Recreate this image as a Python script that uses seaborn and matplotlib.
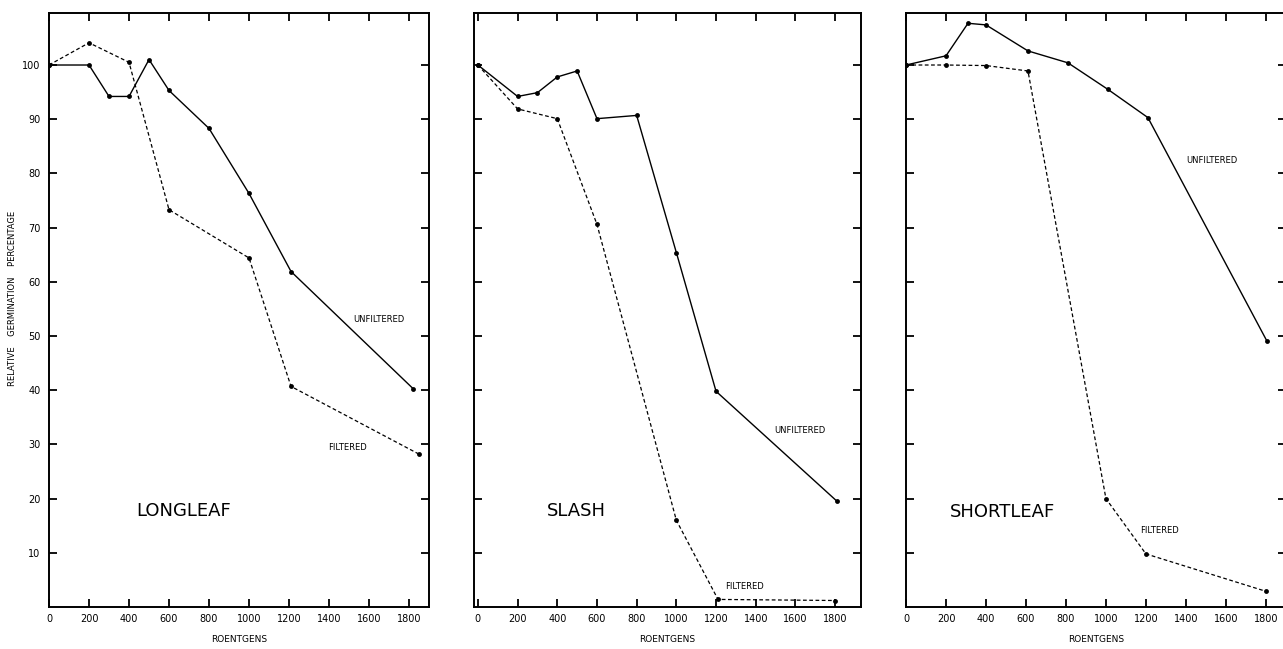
import numpy as np
import pandas as pd
import matplotlib.pyplot as plt
import seaborn as sns

# valores (roentgens x germinação relativa %)
longleaf_unf_x = [0, 200, 300, 400, 500, 600, 800, 1000, 1210, 1820]
longleaf_unf_y = [100, 100, 94.2, 94.2, 101, 95.3, 88.3, 76.3, 61.9, 40.3]
longleaf_fil_x = [0, 200, 400, 600, 1000, 1210, 1850]
longleaf_fil_y = [100, 104.1, 100.5, 73.3, 64.4, 40.7, 28.2]

slash_unf_x = [0, 200, 300, 400, 500, 600, 800, 1000, 1200, 1810]
slash_unf_y = [100, 94.2, 94.9, 97.8, 98.9, 90.1, 90.7, 65.4, 39.8, 19.5]
slash_fil_x = [0, 200, 400, 600, 1000, 1210, 1800]
slash_fil_y = [100, 91.9, 90.1, 70.6, 16.0, 1.4, 1.2]

shortleaf_unf_x = [0, 200, 310, 400, 610, 810, 1010, 1210, 1805]
shortleaf_unf_y = [100, 101.7, 107.7, 107.4, 102.6, 100.4, 95.5, 90.3, 49.1]
shortleaf_fil_x = [0, 200, 400, 610, 1000, 1200, 1800]
shortleaf_fil_y = [100, 100, 99.9, 98.9, 20.0, 9.8, 2.9]

species = ['LONGLEAF', 'SLASH', 'SHORTLEAF']
x_ticks = [0, 200, 400, 600, 800, 1000, 1200, 1400, 1600, 1800]
y_ticks = [10, 20, 30, 40, 50, 60, 70, 80, 90, 100]

panels = [
    (longleaf_unf_x, longleaf_unf_y, longleaf_fil_x, longleaf_fil_y,
     (0, 1900), (1650, 53), (1490, 29.5), (675, 17.7)),
    (slash_unf_x, slash_unf_y, slash_fil_x, slash_fil_y,
     (-20, 1930), (1620, 32.5), (1345, 3.8), (498, 17.7)),
    (shortleaf_unf_x, shortleaf_unf_y, shortleaf_fil_x, shortleaf_fil_y,
     (0, 1900), (1530, 82.4), (1270, 14.2), (484, 17.6)),
]

sns.set_style('white')
plt.rcParams['font.family'] = ['DejaVu Sans']
plt.rcParams['text.color'] = 'black'
plt.rcParams['axes.labelcolor'] = 'black'
plt.rcParams['xtick.color'] = 'black'
plt.rcParams['ytick.color'] = 'black'

fig = plt.figure(figsize=(12.83, 6.49), dpi=100)
lefts = [0.0382, 0.3694, 0.7062]
widths = [0.2962, 0.3016, 0.2960]

for i, (ux, uy, fx, fy, xlim, upos, fpos, spos) in enumerate(panels):
    ax = fig.add_axes([lefts[i], 0.0647, widths[i], 0.9153])
    df_u = pd.DataFrame({'r': ux, 'g': uy})
    df_f = pd.DataFrame({'r': fx, 'g': fy})
    sns.lineplot(data=df_u, x='r', y='g', ax=ax, color='black', linewidth=1.0,
                 marker='o', markersize=3.5, markeredgewidth=0, sort=False)
    sns.lineplot(data=df_f, x='r', y='g', ax=ax, color='black', linewidth=0.9,
                 linestyle=(0, (3, 2)), marker='o', markersize=3.5,
                 markeredgewidth=0, sort=False)
    ax.set_xlim(*xlim)
    ax.set_ylim(0, 109.6)
    ax.set_xticks(x_ticks)
    ax.set_xticklabels([str(t) for t in x_ticks], fontsize=7)
    ax.set_yticks(y_ticks)
    if i == 0:
        ax.set_yticklabels([str(t) for t in y_ticks], fontsize=7)
        ax.set_ylabel('RELATIVE    GERMINATION    PERCENTAGE', fontsize=6)
        ax.yaxis.set_label_coords(-0.085, 0.52)
    else:
        ax.set_yticklabels([])
        ax.set_ylabel('')
    ax.set_xlabel('ROENTGENS', fontsize=6.5, labelpad=8)
    ax.tick_params(axis='both', direction='in', length=6, width=1.3,
                   top=True, right=True, bottom=True, left=True)
    ax.tick_params(axis='x', pad=5)
    ax.tick_params(axis='y', pad=6)
    for s in ax.spines.values():
        s.set_visible(True)
        s.set_linewidth(1.4)
        s.set_color('black')
    ax.text(upos[0], upos[1], 'UNFILTERED', fontsize=6, ha='center', va='center')
    ax.text(fpos[0], fpos[1], 'FILTERED', fontsize=6, ha='center', va='center')
    ax.text(spos[0], spos[1], species[i], fontsize=13, ha='center', va='center')

plt.savefig('out.png', dpi=100)
